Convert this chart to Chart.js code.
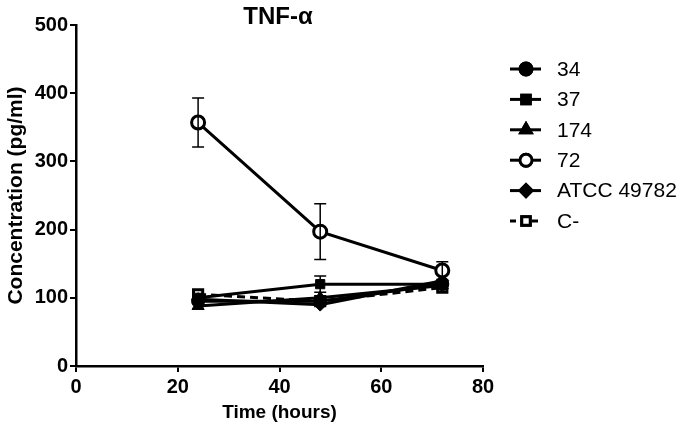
<!DOCTYPE html>
<html>
<head>
<meta charset="utf-8">
<script src="https://cdn.jsdelivr.net/npm/chart.js@4"></script>
<style>
  body { margin: 0; background: #fff; }
  #wrap { width: 685px; height: 428px; }
</style>
</head>
<body>
<div id="wrap"><canvas id="TnfChart" width="685" height="428"></canvas></div>
<script>
const hours = [24, 48, 72];
const s34 = [95, 95, 120];
const s37 = [100, 120, 120];
const s174 = [88, 100, 118];
const s72 = [357, 197, 140];
const sAtcc = [98, 90, 125];
const sNeg = [105, 95, 115];
const err72 = [36, 41, 13];
const err37 = [0, 12, 0];
const yTicks = [0, 100, 200, 300, 400, 500];
const xTicks = [0, 20, 40, 60, 80];

function pts(values) {
    return hours.map((h, i) => ({ x: h, y: values[i] }));
}

function makeSet(label, values, style, fill, dashed, errors) {
    return {
        label: label,
        data: pts(values),
        borderColor: '#000',
        backgroundColor: fill,
        borderWidth: 3,
        borderDash: dashed ? [8, 5] : [],
        pointStyle: style,
        pointRadius: style === 'triangle' ? 7 : 6.5,
        pointBorderWidth: fill === '#fff' ? 3 : 1,
        pointBorderColor: '#000',
        pointBackgroundColor: fill,
        errors: errors || null,
        tension: 0
    };
}

const errorBars = {
    id: 'errorBars',
    afterDatasetsDraw(chart) {
        const ctx = chart.ctx;
        const x = chart.scales.x, y = chart.scales.y;
        ctx.save();
        ctx.strokeStyle = '#000';
        ctx.lineWidth = 1.5;
        chart.data.datasets.forEach(ds => {
            if (!ds.errors) return;
            ds.data.forEach((p, i) => {
                const e = ds.errors[i];
                if (!e) return;
                const px = x.getPixelForValue(p.x);
                const top = y.getPixelForValue(p.y + e);
                const bot = y.getPixelForValue(p.y - e);
                ctx.beginPath();
                ctx.moveTo(px, top); ctx.lineTo(px, bot);
                ctx.moveTo(px - 6, top); ctx.lineTo(px + 6, top);
                ctx.moveTo(px - 6, bot); ctx.lineTo(px + 6, bot);
                ctx.stroke();
            });
        });
        ctx.restore();
    }
};

const sideLegend = {
    id: 'sideLegend',
    afterDraw(chart) {
        const ctx = chart.ctx;
        ctx.save();
        // title
        ctx.fillStyle = '#000';
        ctx.font = 'bold 24px "Liberation Sans", Arial, sans-serif';
        ctx.textAlign = 'center';
        ctx.textBaseline = 'middle';
        ctx.fillText('TNF-\u03b1', 278, 17);

        ctx.font = '21px "Liberation Sans", Arial, sans-serif';
        ctx.textAlign = 'left';
        chart.data.datasets.forEach((ds, i) => {
            const cy = 69 + i * 30.4;
            ctx.strokeStyle = '#000';
            ctx.lineWidth = 3;
            ctx.setLineDash(ds.borderDash.length ? [6, 5] : []);
            ctx.beginPath();
            ctx.moveTo(510, cy); ctx.lineTo(541, cy);
            ctx.stroke();
            ctx.setLineDash([]);
            Chart.helpers.drawPoint(ctx, {
                pointStyle: ds.pointStyle,
                radius: 6,
                borderWidth: ds.pointBorderWidth
            }, 526, cy);
            ctx.fillStyle = ds.pointBackgroundColor;
            ctx.fill();
            ctx.stroke();
            ctx.fillStyle = '#000';
            ctx.fillText(ds.label, 557, cy + 1);
        });
        ctx.restore();
    }
};

const tickFont = { family: '"Liberation Sans", Arial, sans-serif', size: 20, weight: 'bold' };
const titleFont = { family: '"Liberation Sans", Arial, sans-serif', size: 19, weight: 'bold' };

const tnf = document.getElementById('TnfChart').getContext('2d');
const tnfChart = new Chart(tnf, {
    type: 'line',
    data: {
        datasets: [
            makeSet('34', s34, 'circle', '#000', false),
            makeSet('37', s37, 'rect', '#000', false, err37),
            makeSet('174', s174, 'triangle', '#000', false),
            makeSet('72', s72, 'circle', '#fff', false, err72),
            makeSet('ATCC 49782', sAtcc, 'rectRot', '#000', false),
            makeSet('C-', sNeg, 'rect', '#fff', true)
        ]
    },
    options: {
        responsive: false,
        animation: false,
        layout: { padding: { left: 0, right: 202, top: 25, bottom: 0 } },
        plugins: {
            legend: { display: false },
            tooltip: { enabled: false }
        },
        scales: {
            x: {
                type: 'linear',
                min: 0, max: 80,
                afterBuildTicks: s => { s.ticks = xTicks.map(v => ({ value: v })); },
                afterFit: s => { s.height = 62; },
                grid: { drawOnChartArea: false, drawTicks: true, tickLength: 6, color: '#000', lineWidth: 2 },
                border: { color: '#000', width: 2.5 },
                ticks: { color: '#000', font: tickFont, padding: 3, maxRotation: 0 },
                title: { display: true, text: 'Time (hours)', color: '#000', font: titleFont, padding: { top: 1 } }
            },
            y: {
                min: 0, max: 500,
                afterBuildTicks: s => { s.ticks = yTicks.map(v => ({ value: v })); },
                afterFit: s => { s.width = 76; },
                grid: { drawOnChartArea: false, drawTicks: true, tickLength: 6, color: '#000', lineWidth: 2 },
                border: { color: '#000', width: 2.5 },
                ticks: { color: '#000', font: tickFont, padding: 2 },
                title: { display: true, text: 'Concentration (pg/ml)', color: '#000', font: { family: '"Liberation Sans", Arial, sans-serif', size: 21, weight: 'bold' }, padding: { bottom: 0 } }
            }
        }
    },
    plugins: [errorBars, sideLegend]
});
</script>
</body>
</html>
